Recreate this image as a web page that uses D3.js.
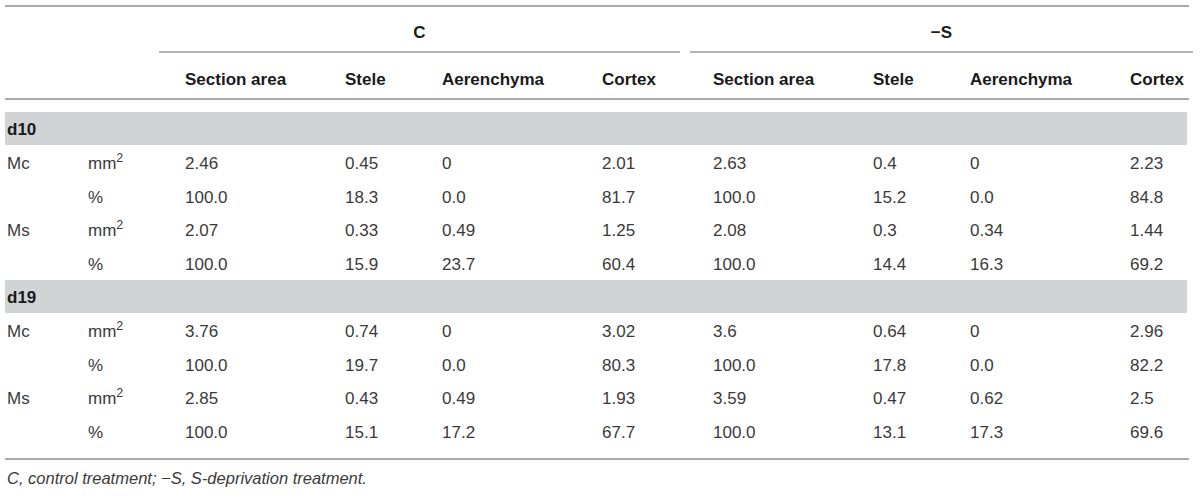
<!DOCTYPE html>
<html>
<head>
<meta charset="utf-8">
<script src="https://cdn.jsdelivr.net/npm/d3@7"></script>
<style>
  body { margin: 0; background: #fff; }
  svg { display: block; font-family: "Liberation Sans", Arial, Helvetica, sans-serif; }
</style>
</head>
<body>
<div id="table"></div>
<script>
// Table content
const treatments = ["C", "\u2212S"];
const measures = ["Section area", "Stele", "Aerenchyma", "Cortex"];
const days = ["d10", "d19"];
const genotypes = ["Mc", "Ms"];
const units = ["mm2", "%"];

// values per row: C (4 measures) then -S (4 measures)
const d10McArea = ["2.46", "0.45", "0", "2.01", "2.63", "0.4", "0", "2.23"];
const d10McPct  = ["100.0", "18.3", "0.0", "81.7", "100.0", "15.2", "0.0", "84.8"];
const d10MsArea = ["2.07", "0.33", "0.49", "1.25", "2.08", "0.3", "0.34", "1.44"];
const d10MsPct  = ["100.0", "15.9", "23.7", "60.4", "100.0", "14.4", "16.3", "69.2"];
const d19McArea = ["3.76", "0.74", "0", "3.02", "3.6", "0.64", "0", "2.96"];
const d19McPct  = ["100.0", "19.7", "0.0", "80.3", "100.0", "17.8", "0.0", "82.2"];
const d19MsArea = ["2.85", "0.43", "0.49", "1.93", "3.59", "0.47", "0.62", "2.5"];
const d19MsPct  = ["100.0", "15.1", "17.2", "67.7", "100.0", "13.1", "17.3", "69.6"];

const footnote = "C, control treatment; \u2212S, S-deprivation treatment.";

const width = 1200, height = 496;
const left = 5, right = 1189;

// Build row list: a band row for each day, then genotype x unit rows
const blocks = {
  d10: [d10McArea, d10McPct, d10MsArea, d10MsPct],
  d19: [d19McArea, d19McPct, d19MsArea, d19MsPct]
};
const rows = [];
days.forEach(day => {
  rows.push({ key: day, type: "band", label: day });
  let i = 0;
  genotypes.forEach(g => {
    units.forEach((u, j) => {
      rows.push({ key: `${day}-${g}-${u}`, type: "data", label: j === 0 ? g : "", unit: u, values: blocks[day][i] });
      i++;
    });
  });
});

// Column layout: gaps between measure columns
const colGaps = [160, 97, 160, 111];
const colKeys = treatments.flatMap(t => measures.map(m => `${t}|${m}`));
let cx = 185;
const colX = colKeys.map((k, i) => { const x = cx; cx += colGaps[i % 4]; return x; });
const xScale = d3.scaleOrdinal().domain(colKeys).range(colX);

const yScale = d3.scaleBand()
  .domain(rows.map(d => d.key))
  .range([112, 112 + rows.length * 33.6])
  .paddingInner(0);

const svg = d3.select("#table")
  .append("svg")
  .attr("width", width)
  .attr("height", height);

const lineColor = "#8e8e8e";

// Top rule
svg.append("line")
  .attr("x1", left).attr("x2", right)
  .attr("y1", 6).attr("y2", 6)
  .attr("stroke", lineColor).attr("stroke-width", 1.6);

// Treatment spanners
const spans = [
  { t: treatments[0], x1: 159, x2: 680 },
  { t: treatments[1], x1: 690, x2: 1193 }
];
svg.selectAll(".span-line")
  .data(spans)
  .join("line")
  .attr("class", "span-line")
  .attr("x1", d => d.x1).attr("x2", d => d.x2)
  .attr("y1", 52).attr("y2", 52)
  .attr("stroke", "#6a6a6a").attr("stroke-width", 1.2);

svg.selectAll(".span-text")
  .data(spans)
  .join("text")
  .attr("class", "span-text")
  .attr("x", d => (d.x1 + d.x2) / 2)
  .attr("y", 38)
  .attr("text-anchor", "middle")
  .attr("font-size", "17px")
  .attr("font-weight", "bold")
  .attr("fill", "#1a1a1a")
  .text(d => d.t);

// Column headers
svg.selectAll(".col-head")
  .data(colKeys)
  .join("text")
  .attr("class", "col-head")
  .attr("x", d => xScale(d))
  .attr("y", 85)
  .attr("font-size", "17px")
  .attr("font-weight", "bold")
  .attr("fill", "#1a1a1a")
  .text(d => d.split("|")[1]);

// Header rule
svg.append("line")
  .attr("x1", left).attr("x2", right)
  .attr("y1", 99).attr("y2", 99)
  .attr("stroke", lineColor).attr("stroke-width", 1.6);

// Day bands
const bands = rows.filter(d => d.type === "band");
svg.selectAll(".band")
  .data(bands)
  .join("rect")
  .attr("class", "band")
  .attr("x", left)
  .attr("width", 1187 - left)
  .attr("y", d => yScale(d.key))
  .attr("height", 33)
  .attr("fill", "#d1d3d4");

svg.selectAll(".band-text")
  .data(bands)
  .join("text")
  .attr("class", "band-text")
  .attr("x", left + 2)
  .attr("y", d => yScale(d.key) + 23)
  .attr("font-size", "17px")
  .attr("font-weight", "bold")
  .attr("fill", "#1a1a1a")
  .text(d => d.label);

// Data rows
const dataRows = rows.filter(d => d.type === "data");
const rowG = svg.selectAll(".row")
  .data(dataRows)
  .join("g")
  .attr("class", "row")
  .attr("transform", d => `translate(0,${yScale(d.key) + 23.5})`)
  .attr("font-size", "17px")
  .attr("fill", "#3a3a3a");

rowG.append("text")
  .attr("x", left + 2)
  .text(d => d.label);

const unitText = rowG.append("text")
  .attr("x", 88);
unitText.each(function(d) {
  const t = d3.select(this);
  if (d.unit === "mm2") {
    t.append("tspan").text("mm");
    t.append("tspan").attr("dy", -7).attr("font-size", "12.5px").text("2");
  } else {
    t.text(d.unit);
  }
});

rowG.selectAll(".cell")
  .data(d => d.values.map((v, i) => ({ v, col: colKeys[i] })))
  .join("text")
  .attr("class", "cell")
  .attr("x", d => xScale(d.col))
  .text(d => d.v);

// Bottom rule
svg.append("line")
  .attr("x1", left).attr("x2", right)
  .attr("y1", 459).attr("y2", 459)
  .attr("stroke", lineColor).attr("stroke-width", 1.6);

// Footnote
svg.append("text")
  .attr("x", left + 2)
  .attr("y", 484)
  .attr("font-size", "16.5px")
  .attr("font-style", "italic")
  .attr("fill", "#3a3a3a")
  .text(footnote);
</script>
</body>
</html>
